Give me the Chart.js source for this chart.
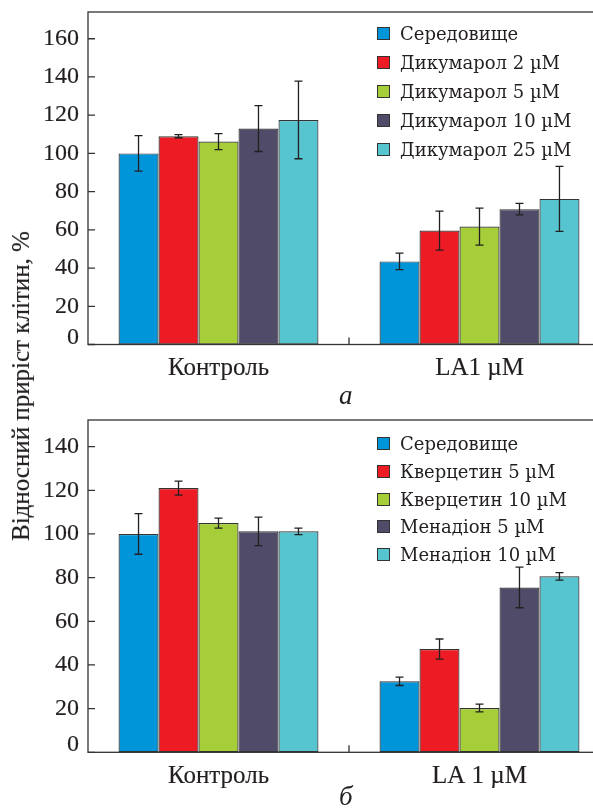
<!DOCTYPE html>
<html><head><meta charset="utf-8">
<script src="https://cdn.jsdelivr.net/npm/chart.js@4"></script>
<style>
html,body{margin:0;padding:0;background:#fff;overflow:hidden;width:593px;height:811px}
#wrap{position:relative;width:593px;height:811px;overflow:hidden}
canvas{position:absolute;left:0}
.ytitle{position:absolute;left:21px;top:386px;transform:translate(-50%,-50%) rotate(-90deg);font-family:'Liberation Serif';font-size:25px;color:#231f20;white-space:nowrap;-webkit-text-stroke:0.2px #231f20}
.legend{position:absolute;left:377px;font-family:'DejaVu Serif';font-size:18px;color:#231f20}
.legend .row{display:flex;align-items:center;white-space:nowrap}
.legend .sw{width:11px;height:11px;border:1.2px solid #333;margin-right:10px;flex:none}
.plab{position:absolute;font-family:'Liberation Serif';font-style:italic;font-size:27px;color:#231f20}
</style></head>
<body><div id="wrap">
<canvas id="cA" width="625" height="400" style="top:0"></canvas>
<canvas id="cB" width="625" height="403" style="top:408px"></canvas>
<div class="ytitle">Відносний приріст клітин, %</div>
<div class="legend" id="legA" style="top:19px"></div>
<div class="legend" id="legB" style="top:430px"></div>
<div class="plab" style="left:339px;top:380px">a</div>
<div class="plab" style="left:339px;top:781px">б</div>
</div>
<script>
// ---- data ----
const categoriesA = ['Контроль', 'LA1 µM'];
const seriesNamesA = ['Середовище', 'Дикумарол 2 µM', 'Дикумарол 5 µM', 'Дикумарол 10 µM', 'Дикумарол 25 µM'];
const valsA_0 = [100, 43.5];   const errA_0 = [9.3, 4.3];
const valsA_1 = [109, 59.6];   const errA_1 = [0.8, 10.2];
const valsA_2 = [106.2, 61.7]; const errA_2 = [4.2, 9.7];
const valsA_3 = [113, 70.8];   const errA_3 = [12, 3];
const valsA_4 = [117.5, 76.2]; const errA_4 = [20.3, 17];

const categoriesB = ['Контроль', 'LA 1 µM'];
const seriesNamesB = ['Середовище', 'Кверцетин 5 µM', 'Кверцетин 10 µM', 'Менадіон 5 µM', 'Менадіон 10 µM'];
const valsB_0 = [100, 32.5];   const errB_0 = [9.3, 1.9];
const valsB_1 = [121, 47.3];   const errB_1 = [3.2, 4.6];
const valsB_2 = [105, 20.3];   const errB_2 = [2.3, 1.8];
const valsB_3 = [101.2, 75.5]; const errB_3 = [6.5, 9.3];
const valsB_4 = [101.2, 80.6]; const errB_4 = [1.5, 1.7];

const yTicksA = [0, 20, 40, 60, 80, 100, 120, 140, 160];
const yTicksB = [0, 20, 40, 60, 80, 100, 120, 140];
const yMaxA = 174;
const yMaxB = 152.2;

const colors = ['#0094d9', '#ed1c24', '#a6ce39', '#4f4b68', '#56c5d0'];
// ---------------

const AXFONT = 'Liberation Serif';
const TXT = '#231f20';

const decor = {
  id: 'decor',
  afterDatasetsDraw(chart) {
    const {ctx, chartArea: a, scales: {x, y}} = chart;
    ctx.save();
    ctx.strokeStyle = '#231f20';
    ctx.lineWidth = 1.3;
    chart.data.datasets.forEach((ds, i) => {
      const meta = chart.getDatasetMeta(i);
      meta.data.forEach((bar, j) => {
        const v = ds.data[j], e = ds.errors[j];
        const yt = y.getPixelForValue(v + e), yb = y.getPixelForValue(v - e);
        const cx = bar.x;
        ctx.beginPath();
        ctx.moveTo(cx, yt); ctx.lineTo(cx, yb);
        ctx.moveTo(cx - 4, yt); ctx.lineTo(cx + 4, yt);
        ctx.moveTo(cx - 4, yb); ctx.lineTo(cx + 4, yb);
        ctx.stroke();
      });
    });
    ctx.strokeStyle = '#333';
    ctx.lineWidth = 1.3;
    ctx.strokeRect(a.left, a.top, a.right - a.left, a.bottom - a.top);
    ctx.beginPath();
    y.ticks.forEach(t => {
      const py = y.getPixelForValue(t.value);
      ctx.moveTo(a.left, py); ctx.lineTo(a.left + 7, py);
    });
    for (let k = 0; k < x.ticks.length - 1; k++) {
      const px = (x.getPixelForValue(k) + x.getPixelForValue(k + 1)) / 2;
      ctx.moveTo(px, a.bottom); ctx.lineTo(px, a.bottom - 7);
    }
    ctx.stroke();
    ctx.restore();
  }
};

function makeChart(id, cats, names, vals, errs, yMax, yTicks, xHeight) {
  const datasets = names.map((n, i) => ({
    label: n, data: vals[i], errors: errs[i],
    backgroundColor: colors[i], borderColor: '#333', borderWidth: 1.2, borderSkipped: false,
    categoryPercentage: 0.766, barPercentage: 1.0
  }));
  return new Chart(document.getElementById(id), {
    type: 'bar',
    data: {labels: cats, datasets},
    options: {
      responsive: false, animation: false,
      layout: {padding: {top: 12, right: 15, left: 0, bottom: 0}},
      plugins: {legend: {display: false}, tooltip: {enabled: false}},
      scales: {
        x: {
          offset: true,
          grid: {display: false, drawTicks: false, tickLength: 0},
          border: {display: false},
          ticks: {font: {family: AXFONT, size: 25}, color: TXT, padding: 9, maxRotation: 0,
                  textStrokeColor: TXT, textStrokeWidth: 0.15},
          afterFit(s) { s.height = xHeight; s.paddingLeft = 0; s.paddingRight = 0; }
        },
        y: {
          min: 0, max: yMax,
          grid: {display: false, drawTicks: false, tickLength: 0},
          border: {display: false},
          ticks: {
            font: (c) => ({family: AXFONT, size: 24, lineHeight: (c.tick && c.tick.value === 0) ? 0.6 : 1.2}),
            color: TXT, padding: 9, textStrokeColor: TXT, textStrokeWidth: 0.15,
            callback: (v) => v === 0 ? ['0', ''] : String(v)
          },
          afterBuildTicks(s) { s.ticks = yTicks.map(v => ({value: v})); },
          afterFit(s) { s.width = 88; s.paddingTop = 0; s.paddingBottom = 0; }
        }
      }
    },
    plugins: [decor]
  });
}

makeChart('cA', categoriesA, seriesNamesA,
  [valsA_0, valsA_1, valsA_2, valsA_3, valsA_4],
  [errA_0, errA_1, errA_2, errA_3, errA_4], yMaxA, yTicksA, 55.5);
makeChart('cB', categoriesB, seriesNamesB,
  [valsB_0, valsB_1, valsB_2, valsB_3, valsB_4],
  [errB_0, errB_1, errB_2, errB_3, errB_4], yMaxB, yTicksB, 58.7);

function legend(elId, names, rowH) {
  const el = document.getElementById(elId);
  names.forEach((n, i) => {
    const r = document.createElement('div');
    r.className = 'row';
    r.style.height = rowH + 'px';
    const sw = document.createElement('span');
    sw.className = 'sw';
    sw.style.background = colors[i];
    const t = document.createElement('span');
    t.textContent = n;
    r.appendChild(sw); r.appendChild(t);
    el.appendChild(r);
  });
}
legend('legA', seriesNamesA, 29);
legend('legB', seriesNamesB, 27.7);
</script>
</body></html>
